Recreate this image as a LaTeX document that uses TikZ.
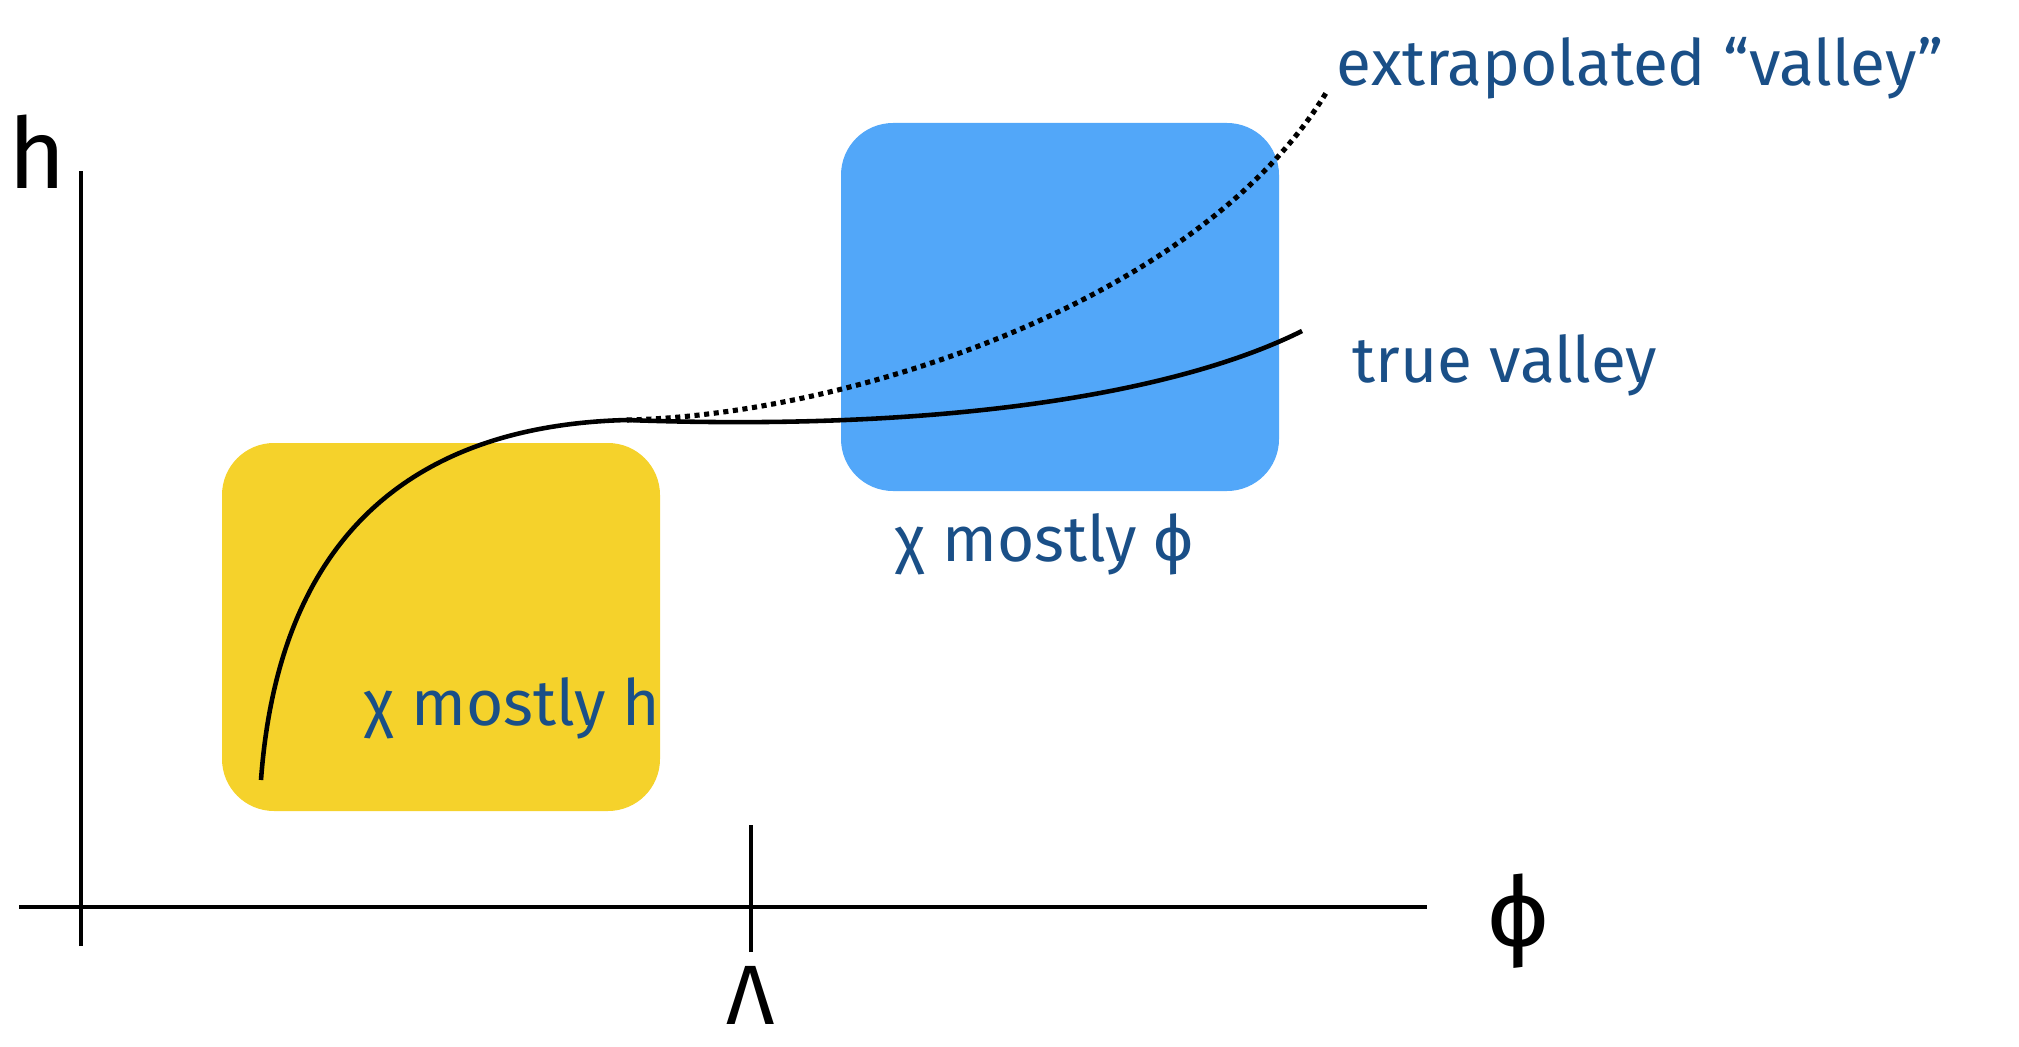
\documentclass[tikz,border=0pt]{standalone}
\usepackage{fontspec}
\setmainfont{Fira Sans}
\usepackage{tikz}
\usetikzlibrary{positioning}
\definecolor{labelblue}{HTML}{1A4F87}
\definecolor{hregion}{HTML}{F5D22B}
\definecolor{phiregion}{HTML}{52A7F9}
\tikzset{
    axis/.style={line width=1.4pt, black},
    valley/.style={line width=1.3pt, black},
    extrap/.style={line width=1.45pt, black, dash pattern=on 1.45pt off 1.3pt},
    region/.style={rounded corners=5.2mm},
    note/.style={text=labelblue, font=\fontsize{18.2}{22}\selectfont, inner sep=0pt},
    axislabel/.style={font=\fontsize{28}{30}\selectfont, inner sep=0pt}
}

\begin{document}
\begin{tikzpicture}[x=0.1mm, y=-0.1mm]
    \useasboundingbox (0,0) rectangle (2019,1047);

    % Regions
    \fill [region, hregion] (222,443) rectangle (660,811);
    \fill [region, phiregion] (841,123) rectangle (1279,491);

    % Axes
    \coordinate (ytop) at (81,171);
    \coordinate (ybot) at (81,946);
    \coordinate (xleft) at (19,907);
    \coordinate (xright) at (1427,907);
    \coordinate (ticktop) at (751,825);
    \coordinate (tickbot) at (751,952);
    \draw [axis] (ybot) -- (ytop);
    \draw [axis] (xleft) -- (xright);
    \draw [axis] (tickbot) -- (ticktop);

    % Valleys
    \coordinate (start) at (261,780);
    \coordinate (knee) at (627,420);
    \coordinate (trueend) at (1302,331);
    \coordinate (extrapend) at (1326,93);
    \draw [valley] (start) .. controls (280,520) and (430,425) .. (knee)
        .. controls (950,432) and (1180,392) .. (trueend);
    \draw [extrap] (knee) .. controls (850,415) and (1200,300) .. (extrapend);

    % Labels
    \node [axislabel, anchor=base] (hname) at (37,188) {h};
    \node [axislabel] (phiname) at (1518,921) {ϕ};
    \node [axislabel, anchor=base, font=\fontsize{24}{26}\selectfont] (lambdaname) at (751,1024) {Λ};
    \node [note, anchor=base west] (extraplabel) at (1336,86) {extrapolated “valley”};
    \node [note, anchor=base west] (truelabel) at (1352,382) {true valley};
    \node [note, anchor=base west] (philabel) at (895,561) {χ mostly ϕ};
    \node [note, anchor=base west] (hlabel) at (364,725) {χ mostly h};
\end{tikzpicture}
\end{document}
